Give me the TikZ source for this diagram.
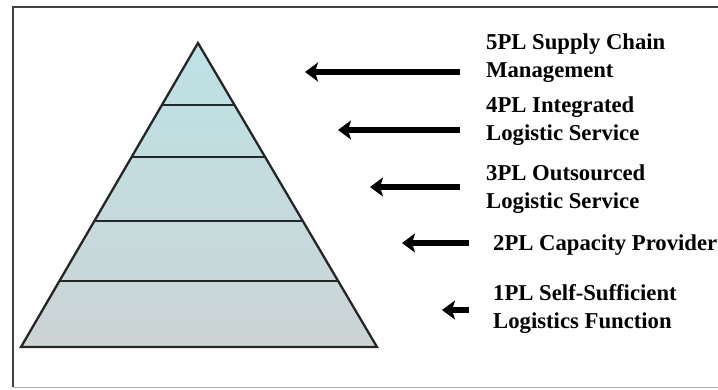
\documentclass[tikz,border=0pt]{standalone}
\usepackage{fontspec}
\setmainfont{Liberation Serif}
\usetikzlibrary{arrows.meta, calc}
\definecolor{pyrtop}{RGB}{188,226,229}
\definecolor{pyrbot}{RGB}{204,212,213}
\tikzset{
    level/.style = {font=\bfseries\fontsize{22.7}{28}\selectfont, align=left, anchor=base west, inner sep=0pt},
    pointer/.style = {line width=6.5pt, -{Stealth[length=13pt,width=19pt,inset=3pt]}},
    band/.style = {line width=2.3pt, black!85},
}

\begin{document}
\begin{tikzpicture}[x=1pt, y=-1pt]
\useasboundingbox (0,0) rectangle (718,389);
\draw[line width=2pt, black!75] (13,387) -- (13,6.5) -- (718,6.5);
\draw[line width=1.5pt, black!30] (13,387.5) -- (718,387.5);

\coordinate (apex) at (198,43);
\coordinate (bl) at (21,347);
\coordinate (br) at (377,347);
\shade[top color=pyrtop, bottom color=pyrbot] (apex) -- (br) -- (bl) -- cycle;
\foreach \t in {0.204, 0.375, 0.586, 0.783}
  \draw[band] ($(apex)!\t!(bl)$) -- ($(apex)!\t!(br)$);
\draw[band] (apex) -- (br) -- (bl) -- cycle;

\node[level] (l5) at (486,77) {5PL Supply Chain\\Management};
\node[level] (l4) at (486,140) {4PL Integrated\\Logistic Service};
\node[level] (l3) at (486,208) {3PL Outsourced\\Logistic Service};
\node[level] (l2) at (493,250) {2PL Capacity Provider};
\node[level] (l1) at (493,328) {1PL Self-Sufficient\\Logistics Function};

\coordinate (s5) at (460,72);
\coordinate (e5) at (305,72);
\draw[pointer] (s5) -- (e5);

\coordinate (s4) at (460,130);
\coordinate (e4) at (338,130);
\draw[pointer] (s4) -- (e4);

\coordinate (s3) at (460,187);
\coordinate (e3) at (370,187);
\draw[pointer] (s3) -- (e3);

\coordinate (s2) at (469,243);
\coordinate (e2) at (402,243);
\draw[pointer] (s2) -- (e2);

\coordinate (s1) at (469,310);
\coordinate (e1) at (442,310);
\draw[pointer] (s1) -- (e1);
\end{tikzpicture}
\end{document}
